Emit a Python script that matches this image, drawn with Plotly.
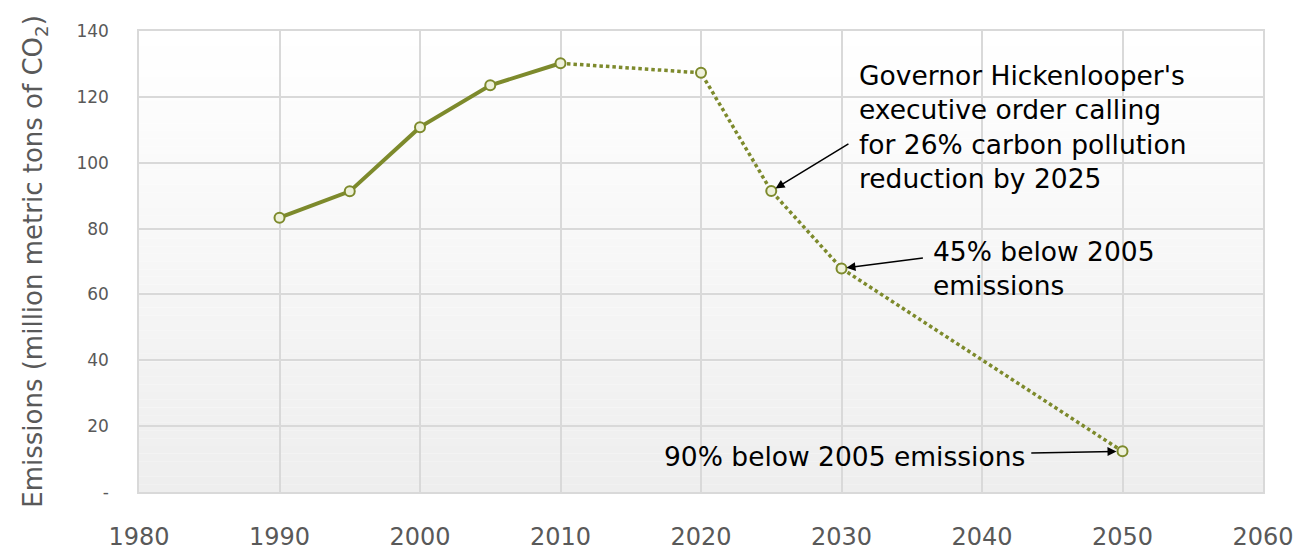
import plotly.graph_objects as go

# Colorado CO2 emissions: historical inventory and target pathway
hist_years = [1990, 1995, 2000, 2005, 2010]
hist_values = [83.3, 91.3, 110.8, 123.5, 130.2]

target_years = [2010, 2020, 2025, 2030, 2050]
target_values = [130.2, 127.3, 91.4, 67.9, 12.35]

x_ticks = [1980, 1990, 2000, 2010, 2020, 2030, 2040, 2050, 2060]
y_ticks = [0, 20, 40, 60, 80, 100, 120, 140]
y_tick_text = ["-", "20", "40", "60", "80", "100", "120", "140"]

LINE = "#7d8a2c"
MARKER_FILL = "#eef1da"
FONT = "DejaVu Sans"
TEXT_GRAY = "#595959"

fig = go.Figure()

fig.add_trace(go.Scatter(
    x=target_years, y=target_values, mode="lines",
    line=dict(color=LINE, width=3.5, dash="3.5px,3px"),
    hoverinfo="skip", showlegend=False,
))
fig.add_trace(go.Scatter(
    x=hist_years, y=hist_values, mode="lines",
    line=dict(color=LINE, width=4),
    hoverinfo="skip", showlegend=False,
))
fig.add_trace(go.Scatter(
    x=hist_years + target_years[1:], y=hist_values + target_values[1:],
    mode="markers",
    marker=dict(size=10, color=MARKER_FILL, line=dict(color=LINE, width=2)),
    showlegend=False,
))

# vertical white-to-grey plot background
n_bands = 60
shapes = []
for i in range(n_bands):
    t = i / (n_bands - 1)
    level = round(255 - t * 17)
    shapes.append(dict(
        type="rect", xref="paper", yref="paper", layer="below",
        x0=0, x1=1, y0=1 - (i + 1) / n_bands, y1=1 - i / n_bands,
        fillcolor=f"rgb({level},{level},{level})", line=dict(width=0),
    ))

ann_font = dict(family=FONT, size=26.5, color="#000000")
arrow_style = dict(xref="x", yref="y", axref="x", ayref="y", text="",
                   showarrow=True, arrowhead=2, arrowsize=1.2, arrowwidth=1.5,
                   arrowcolor="#000000")
annotations = [
    # arrows
    dict(x=target_years[2], y=target_values[2], ax=2030.6, ay=106.0,
         standoff=5, **arrow_style),
    dict(x=target_years[3], y=target_values[3], ax=2035.9, ay=71.1,
         standoff=5, **arrow_style),
    dict(x=target_years[4], y=target_values[4], ax=2043.4, ay=11.8,
         standoff=6, **arrow_style),
    # labels
    dict(x=2031.1, y=110.7, xref="x", yref="y", xanchor="left", yanchor="middle",
         align="left", showarrow=False, font=ann_font,
         text="Governor Hickenlooper's<br>executive order calling<br>"
              "for 26% carbon pollution<br>reduction by 2025"),
    dict(x=2036.4, y=67.9, xref="x", yref="y", xanchor="left", yanchor="middle",
         align="left", showarrow=False, font=ann_font,
         text="45% below 2005<br>emissions"),
    dict(x=2043.2, y=10.9, xref="x", yref="y", xanchor="right", yanchor="middle",
         align="right", showarrow=False, font=ann_font,
         text="90% below 2005 emissions"),
]

fig.update_layout(
    width=1306, height=552,
    margin=dict(l=139, r=43, t=31, b=60, autoexpand=False),
    paper_bgcolor="#ffffff",
    plot_bgcolor="rgba(0,0,0,0)",
    font=dict(family=FONT, color=TEXT_GRAY),
    shapes=shapes,
    annotations=annotations,
    showlegend=False,
)
fig.update_xaxes(
    range=[1980, 2060], tickvals=x_ticks, automargin=False,
    showgrid=True, gridcolor="#d9d9d9", gridwidth=1.5,
    showline=True, mirror=True, linecolor="#d9d9d9", linewidth=1.5,
    zeroline=False, ticks="", ticklabelstandoff=22,
    tickfont=dict(family=FONT, size=24, color=TEXT_GRAY),
)
fig.update_yaxes(
    range=[0, 140], tickvals=y_ticks, ticktext=y_tick_text, automargin=False,
    showgrid=True, gridcolor="#d9d9d9", gridwidth=1.5,
    showline=True, mirror=True, linecolor="#d9d9d9", linewidth=1.5,
    zeroline=False, ticks="", ticklabelstandoff=25,
    tickfont=dict(family=FONT, size=17, color=TEXT_GRAY),
    title=dict(text="Emissions (million metric tons of CO<sub>2</sub>)",
               font=dict(family=FONT, size=26, color=TEXT_GRAY), standoff=26),
)

fig.write_html("out.html")
